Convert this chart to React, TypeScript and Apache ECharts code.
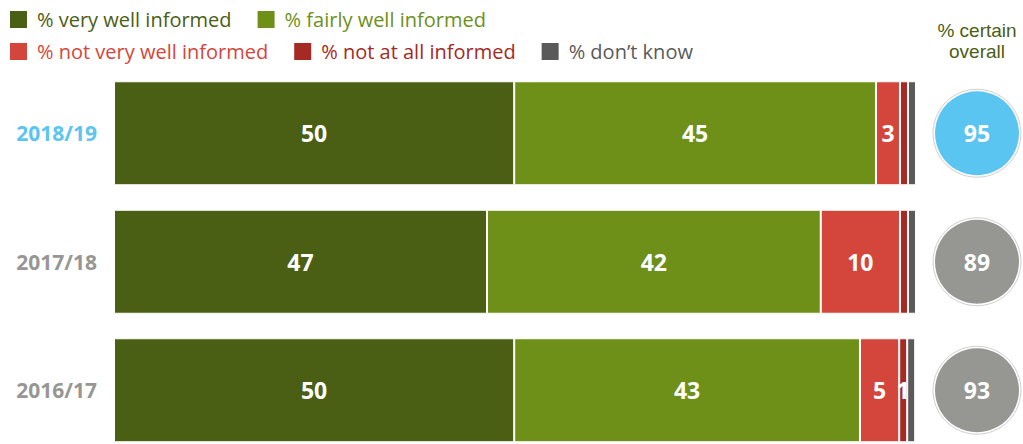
import React, { useEffect, useRef } from "react";
import * as echarts from "echarts";

const categories = ["2018/19", "2017/18", "2016/17"];
const categoryColors = ["#5bc5f2", "#969793", "#969793"];
const veryWell = [50, 46.6, 50];
const fairlyWell = [45.2, 41.7, 43.2];
const notVeryWell = [3, 9.9, 4.9];
const notAtAll = [1, 1, 1];
const notAtAllLabelShown = [false, false, true];
const dontKnow = [1, 1, 1];
const certainOverall = [95, 89, 93];
const circleColors = ["#5bc5f2", "#969793", "#969793"];

const seriesNames = [
  "% very well informed",
  "% fairly well informed",
  "% not very well informed",
  "% not at all informed",
  "% don\u2019t know",
];
const seriesColors = ["#4a5e14", "#6e9019", "#d4463b", "#a52a24", "#5a5a5a"];

const FONT = "'Open Sans', 'Noto Sans', sans-serif";
const HEAD_FONT = "'Liberation Sans', 'Open Sans', sans-serif";

export default function App() {
  const ref = useRef<HTMLDivElement>(null);

  useEffect(() => {
    document.body.style.margin = "0";
    const chart = echarts.init(ref.current!, undefined, { renderer: "svg" });

    const labelStyle = {
      show: true,
      position: "inside",
      color: "#ffffff",
      fontWeight: "bold",
      fontSize: 23,
      fontFamily: FONT,
      formatter: (p: any) => String(Math.round(p.value)),
    };

    const values = [veryWell, fairlyWell, notVeryWell, notAtAll, dontKnow];
    const barSeries = values.map((arr, si) => ({
      name: seriesNames[si],
      type: "bar",
      stack: "total",
      barWidth: 104,
      xAxisIndex: 0,
      yAxisIndex: 0,
      itemStyle: { color: seriesColors[si], borderColor: "#ffffff", borderWidth: 1 },
      label: labelStyle,
      data: arr.map((v, i) => {
        if (si === 4 || (si === 3 && !notAtAllLabelShown[i])) {
          return { value: v, label: { show: false } };
        }
        return v;
      }),
    }));

    const legendText = (name: string, i: number) => ({
      name,
      textStyle: { color: seriesColors[i] },
    });

    const legendBase = {
      left: 8,
      padding: 0,
      icon: "rect",
      itemWidth: 19,
      itemHeight: 19,
      itemGap: 24,
      textStyle: { fontSize: 20, fontFamily: FONT, padding: [0, 0, 0, 4] },
      selectedMode: false,
    };

    chart.setOption({
      animation: false,
      textStyle: { fontFamily: FONT },
      legend: [
        {
          ...legendBase,
          top: 9,
          data: [legendText(seriesNames[0], 0), legendText(seriesNames[1], 1)],
        },
        {
          ...legendBase,
          top: 41,
          data: [
            legendText(seriesNames[2], 2),
            legendText(seriesNames[3], 3),
            legendText(seriesNames[4], 4),
          ],
        },
      ],
      graphic: [
        {
          type: "text",
          x: 977,
          y: 30,
          style: {
            text: "% certain",
            textAlign: "center",
            textVerticalAlign: "middle",
            fill: "#4a5e14",
            fontSize: 19,
            fontFamily: HEAD_FONT,
          },
        },
        {
          type: "text",
          x: 977,
          y: 51,
          style: {
            text: "overall",
            textAlign: "center",
            textVerticalAlign: "middle",
            fill: "#4a5e14",
            fontSize: 19,
            fontFamily: HEAD_FONT,
          },
        },
      ],
      grid: [
        { left: 114, right: 107, top: 69, height: 385.5 },
        { left: 935, width: 84, top: 69, height: 385.5 },
      ],
      xAxis: [
        { type: "value", gridIndex: 0, min: 0, max: 100.2, show: false },
        { type: "value", gridIndex: 1, min: -1, max: 1, show: false },
      ],
      yAxis: [
        {
          type: "category",
          gridIndex: 0,
          inverse: true,
          data: categories.map((c, i) => ({
            value: c,
            textStyle: { color: categoryColors[i] },
          })),
          axisLine: { show: false },
          axisTick: { show: false },
          axisLabel: {
            margin: 17,
            fontSize: 21,
            fontWeight: "bold",
            fontFamily: FONT,
          },
        },
        {
          type: "category",
          gridIndex: 1,
          inverse: true,
          data: categories,
          show: false,
        },
      ],
      series: [
        ...barSeries,
        {
          name: "ring",
          type: "scatter",
          xAxisIndex: 1,
          yAxisIndex: 1,
          symbolSize: 88,
          silent: true,
          itemStyle: { color: "#ffffff", borderColor: "#cfcfcf", borderWidth: 1, opacity: 1 },
          data: categories.map((c) => [0, c]),
        },
        {
          name: "certain",
          type: "scatter",
          xAxisIndex: 1,
          yAxisIndex: 1,
          symbolSize: 84,
          itemStyle: { opacity: 1 },
          label: {
            show: true,
            position: "inside",
            color: "#ffffff",
            fontWeight: "bold",
            fontSize: 23,
            fontFamily: FONT,
            formatter: (p: any) => String(certainOverall[p.dataIndex]),
          },
          data: categories.map((c, i) => ({
            value: [0, c],
            itemStyle: { color: circleColors[i] },
          })),
        },
      ],
    });

    return () => chart.dispose();
  }, []);

  return <div ref={ref} style={{ width: 1023, height: 460 }} />;
}
